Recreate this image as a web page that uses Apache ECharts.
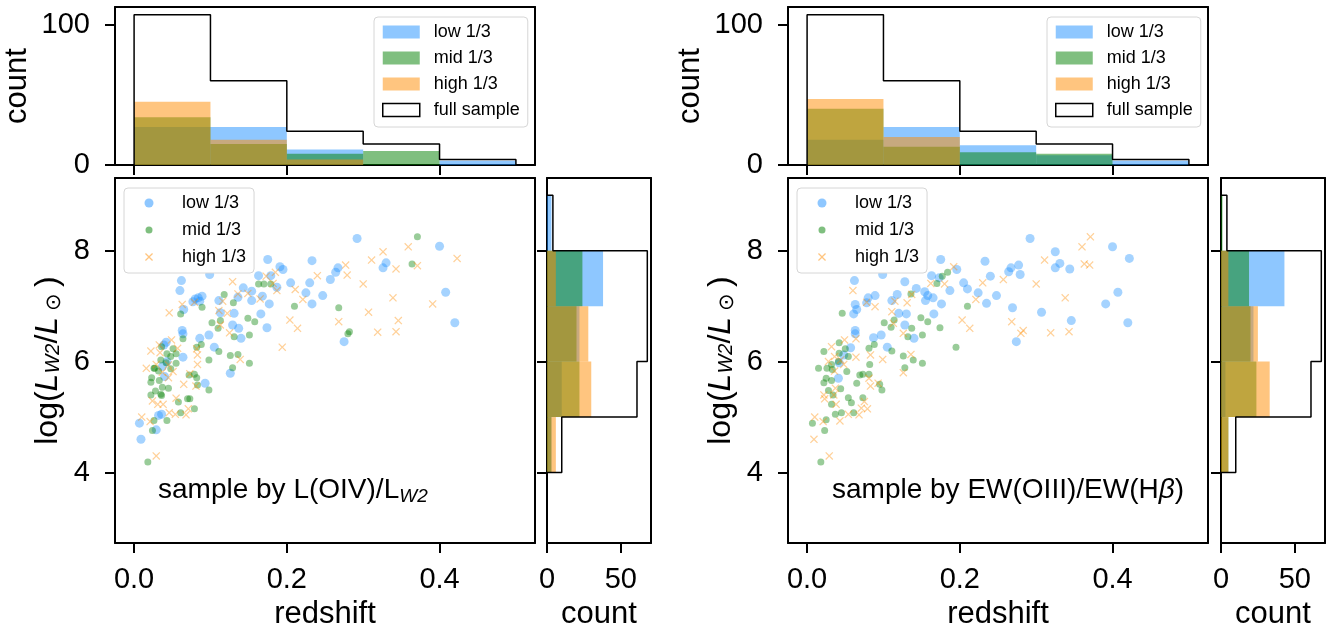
<!DOCTYPE html>
<html><head><meta charset="utf-8">
<script src="https://cdn.jsdelivr.net/npm/echarts@6/dist/echarts.min.js"></script>
<style>html,body{margin:0;padding:0;background:#fff}#c{width:1328px;height:628px}</style>
</head><body><div id="c"></div>
<script>
// ---------------- data ----------------
const groupNames = ['low 1/3', 'mid 1/3', 'high 1/3'];
const fullName = 'full sample';
const zEdges = [0, 0.1, 0.2, 0.3, 0.4, 0.5];
const lEdges = [4, 5, 6, 7, 8, 9];
const zTicks = [0, 0.2, 0.4];
const lTicks = [4, 6, 8];
const topCountTicks = [0, 100];
const sideCountTicks = [0, 50];

const fullZ = [107, 60, 24, 15, 4];
const fullL = [10, 61, 68, 68, 4];

// panel 1: sample by L(OIV)/L_W2
const oivLowZ = [27, 27, 11, 0, 3];
const oivMidZ = [34, 15, 8, 10, 0];
const oivHighZ = [45, 18, 4, 0, 0];
const oivLowL = [3, 10, 22, 38, 3];
const oivMidL = [3, 22, 20, 24, 0];
const oivHighL = [6, 30, 28, 6, 0];

// panel 2: sample by EW(OIII)/EW(Hbeta)
const ewLowZ = [18, 27, 14, 7, 3];
const ewMidZ = [40, 13, 9, 8, 0];
const ewHighZ = [47, 20, 0, 0, 0];
const ewLowL = [0, 3, 22, 43, 0];
const ewMidL = [5, 24, 20, 19, 1];
const ewHighL = [5, 33, 25, 5, 0];

const oivLow = [
[0.292,8.22],[0.400,8.08],[0.175,7.84],[0.233,7.82],[0.330,7.78],[0.326,7.69],[0.267,7.69],[0.264,7.61],[0.191,7.71],[0.195,7.66],
[0.099,7.57],[0.163,7.55],[0.179,7.55],[0.062,7.46],[0.257,7.48],[0.205,7.42],[0.230,7.42],[0.187,7.34],[0.143,7.33],[0.060,7.28],
[0.225,7.24],[0.154,7.27],[0.247,7.19],[0.168,7.18],[0.136,7.16],[0.089,7.18],[0.084,7.15],[0.080,7.13],[0.086,7.09],[0.077,7.08],
[0.111,7.10],[0.154,7.10],[0.233,7.04],[0.177,7.04],[0.408,7.25],[0.065,6.94],[0.113,6.88],[0.131,6.87],[0.166,6.86],[0.420,6.70],
[0.129,6.66],[0.137,6.60],[0.174,6.61],[0.063,6.56],[0.064,6.50],[0.098,6.48],[0.086,6.42],[0.140,6.42],[0.275,6.36],[0.105,6.26],
[0.042,6.35],[0.039,6.30],[0.064,6.08],[0.043,6.00],[0.037,5.91],[0.040,5.73],[0.126,5.79],[0.093,5.61],[0.036,5.05],[0.032,5.03],
[0.007,4.89],[0.029,4.77],[0.009,4.60]
];
const oivMid = [
[0.371,8.25],[0.364,7.76],[0.163,7.40],[0.170,7.40],[0.179,7.40],[0.118,7.21],[0.130,7.06],[0.089,6.98],[0.061,6.86],[0.210,7.00],
[0.268,6.97],[0.149,6.78],[0.158,6.72],[0.113,6.74],[0.102,6.70],[0.110,6.60],[0.282,6.54],[0.280,6.50],[0.131,6.45],[0.151,6.48],
[0.064,6.41],[0.088,6.31],[0.082,6.26],[0.111,6.18],[0.036,6.27],[0.051,6.23],[0.043,6.14],[0.055,6.14],[0.048,6.09],[0.136,6.13],
[0.126,6.11],[0.098,6.03],[0.151,5.97],[0.035,6.03],[0.055,5.97],[0.026,5.88],[0.042,5.98],[0.032,5.83],[0.048,5.87],[0.129,5.89],
[0.072,5.76],[0.079,5.77],[0.082,5.71],[0.023,5.71],[0.022,5.63],[0.033,5.66],[0.045,5.52],[0.037,5.54],[0.083,5.58],[0.098,5.49],
[0.028,5.47],[0.035,5.41],[0.022,5.40],[0.073,5.33],[0.058,5.27],[0.079,5.15],[0.061,5.08],[0.043,4.94],[0.026,4.94],[0.024,4.76],
[0.018,4.19],[0.070,5.33],[0.027,5.88],[0.036,5.39]
];
const oivHigh = [
[0.359,8.07],[0.326,7.98],[0.311,7.83],[0.423,7.86],[0.277,7.74],[0.371,7.73],[0.343,7.67],[0.185,7.61],[0.173,7.54],[0.240,7.55],
[0.279,7.56],[0.129,7.44],[0.182,7.41],[0.300,7.40],[0.211,7.30],[0.187,7.28],[0.136,7.22],[0.149,7.23],[0.165,7.13],[0.221,7.12],
[0.339,7.15],[0.116,7.09],[0.079,7.07],[0.063,7.03],[0.046,6.88],[0.111,6.92],[0.122,6.87],[0.391,7.04],[0.307,6.89],[0.204,6.75],
[0.268,6.72],[0.346,6.74],[0.214,6.60],[0.319,6.53],[0.343,6.54],[0.125,6.52],[0.194,6.26],[0.057,6.24],[0.049,6.39],[0.033,6.30],
[0.022,6.19],[0.082,6.23],[0.083,6.12],[0.034,6.16],[0.083,5.95],[0.139,6.04],[0.029,5.95],[0.016,5.88],[0.045,5.94],[0.051,5.82],
[0.037,5.81],[0.045,5.71],[0.073,5.78],[0.065,5.59],[0.081,5.56],[0.024,5.29],[0.031,5.23],[0.038,5.23],[0.055,5.34],[0.071,5.15],
[0.046,5.08],[0.054,5.05],[0.068,5.04],[0.010,5.00],[0.021,4.92],[0.029,4.30],[0.113,6.66]
];
const ewLow = [
[0.292,8.22],[0.400,8.07],[0.422,7.86],[0.175,7.84],[0.233,7.81],[0.325,7.98],[0.331,7.77],[0.325,7.69],[0.344,7.67],[0.277,7.74],
[0.267,7.69],[0.264,7.62],[0.279,7.57],[0.099,7.57],[0.163,7.55],[0.173,7.51],[0.196,7.66],[0.240,7.54],[0.062,7.46],[0.128,7.44],
[0.205,7.42],[0.210,7.31],[0.187,7.28],[0.143,7.32],[0.154,7.26],[0.224,7.24],[0.248,7.19],[0.407,7.25],[0.089,7.19],[0.080,7.15],
[0.118,7.21],[0.158,7.19],[0.165,7.15],[0.111,7.10],[0.155,7.10],[0.078,7.06],[0.063,7.03],[0.065,6.94],[0.061,6.86],[0.235,7.05],
[0.176,7.04],[0.391,7.04],[0.269,6.97],[0.307,6.89],[0.120,6.87],[0.130,6.86],[0.166,6.86],[0.346,6.74],[0.420,6.70],[0.128,6.66],
[0.063,6.56],[0.063,6.50],[0.097,6.48],[0.087,6.43],[0.140,6.42],[0.274,6.36],[0.105,6.26],[0.057,6.25],[0.048,6.12],[0.042,5.98],
[0.041,5.70]
];
const ewMid = [
[0.184,7.61],[0.177,7.54],[0.170,7.41],[0.136,7.22],[0.046,6.87],[0.210,7.00],[0.149,6.79],[0.158,6.72],[0.101,6.70],[0.114,6.75],
[0.110,6.62],[0.174,6.61],[0.137,6.60],[0.151,6.48],[0.132,6.45],[0.195,6.26],[0.088,6.31],[0.081,6.24],[0.042,6.34],[0.022,6.18],
[0.050,6.23],[0.111,6.19],[0.042,6.15],[0.054,6.09],[0.126,6.10],[0.139,6.03],[0.151,5.97],[0.015,5.88],[0.026,5.88],[0.033,5.86],
[0.082,5.95],[0.052,5.82],[0.128,5.89],[0.032,5.95],[0.025,5.70],[0.073,5.77],[0.069,5.76],[0.032,5.66],[0.022,5.62],[0.065,5.61],
[0.095,5.59],[0.028,5.48],[0.044,5.51],[0.098,5.49],[0.034,5.40],[0.054,5.35],[0.073,5.35],[0.058,5.26],[0.032,5.23],[0.045,5.08],
[0.037,5.05],[0.061,5.08],[0.025,4.95],[0.007,4.89],[0.023,4.76],[0.018,4.19],[0.081,5.77],[0.041,6.00]
];
const ewHigh = [
[0.371,8.25],[0.360,8.07],[0.311,7.83],[0.363,7.76],[0.370,7.74],[0.192,7.71],[0.257,7.48],[0.230,7.42],[0.300,7.40],[0.162,7.41],
[0.180,7.40],[0.060,7.28],[0.137,7.21],[0.221,7.12],[0.338,7.15],[0.115,7.09],[0.078,7.07],[0.089,6.99],[0.131,7.06],[0.111,6.90],
[0.203,6.75],[0.268,6.72],[0.213,6.60],[0.280,6.51],[0.283,6.56],[0.319,6.52],[0.343,6.54],[0.113,6.69],[0.126,6.51],[0.064,6.41],
[0.049,6.39],[0.032,6.27],[0.036,6.09],[0.064,6.08],[0.083,6.12],[0.099,6.04],[0.136,6.13],[0.028,6.00],[0.048,5.95],[0.036,5.83],
[0.126,5.80],[0.081,5.70],[0.093,5.61],[0.083,5.56],[0.037,5.52],[0.022,5.40],[0.023,5.33],[0.035,5.40],[0.075,5.28],[0.038,5.23],
[0.071,5.16],[0.079,5.15],[0.054,5.05],[0.068,5.04],[0.010,5.00],[0.021,4.92],[0.043,4.93],[0.009,4.60],[0.029,4.30],[0.044,6.03]
];

// ---------------- styling ----------------
const FONT = "'Liberation Sans', Arial, Helvetica, sans-serif";
const fills = ['rgba(30,144,255,0.5)', 'rgba(0,128,0,0.5)', 'rgba(255,140,0,0.5)'];
const symbolSizes = [9, 7, 8];
const X_PATH = 'path://M0,0.11L0.11,0L0.5,0.39L0.89,0L1,0.11L0.61,0.5L1,0.89L0.89,1L0.5,0.61L0.11,1L0,0.89L0.39,0.5Z';
const symbols = ['circle', 'circle', X_PATH];
// legend icons (invisible move-to points reserve the gap between marker and text)
const LEG_PATCH = 'path://M0,0M46,13M0,0L37,0L37,13L0,13Z';
const LEG_BLUE = 'path://M0,0M43,9M15,0A4.5,4.5,0,1,1,15,9A4.5,4.5,0,1,1,15,0Z';
const LEG_GREEN = 'path://M0,0M43,9M15,1A3.5,3.5,0,1,1,15,8A3.5,3.5,0,1,1,15,1Z';
const LEG_X = 'path://M0,0M43,9M11,1.4L11.9,0.5L15,3.6L18.1,0.5L19,1.4L15.9,4.5L19,7.6L18.1,8.5L15,5.4L11.9,8.5L11,7.6L14.1,4.5Z';
const Z_RANGE = [-0.025, 0.525];
const L_RANGE = [2.73, 9.31];
const TOP_MAX = 112.6;
const SIDE_MAX = 70.5;

const panels = [
  { left: 115, sideLeft: 547, sideW: 104,
    z: [oivLowZ, oivMidZ, oivHighZ], l: [oivLowL, oivMidL, oivHighL], pts: [oivLow, oivMid, oivHigh],
    annotation: '{a|sample by L(OIV)/L}{s|W2}', annotLeft: 158 },
  { left: 788, sideLeft: 1221, sideW: 104,
    z: [ewLowZ, ewMidZ, ewHighZ], l: [ewLowL, ewMidL, ewHighL], pts: [ewLow, ewMid, ewHigh],
    annotation: '{a|sample by EW(OIII)/EW(H}{b|β}{a|)}', annotLeft: 832 }
];

function binRows(edges, counts) { return counts.map((c, i) => [edges[i], edges[i + 1], c]); }
function stepTop(edges, counts) {
  const pts = [[edges[0], 0]];
  counts.forEach((c, i) => { pts.push([edges[i], c]); pts.push([edges[i + 1], c]); });
  pts.push([edges[edges.length - 1], 0]);
  return pts;
}
function stepSide(edges, counts) {
  const pts = [[0, edges[0]]];
  counts.forEach((c, i) => { pts.push([c, edges[i]]); pts.push([c, edges[i + 1]]); });
  pts.push([0, edges[edges.length - 1]]);
  return pts;
}
function vBar(color) {
  return function (params, api) {
    const a = api.coord([api.value(0), 0]);
    const b = api.coord([api.value(1), api.value(2)]);
    return { type: 'rect', shape: { x: a[0], y: b[1], width: b[0] - a[0], height: a[1] - b[1] }, style: { fill: color } };
  };
}
function hBar(color) {
  return function (params, api) {
    const a = api.coord([0, api.value(0)]);
    const b = api.coord([api.value(2), api.value(1)]);
    return { type: 'rect', shape: { x: a[0], y: b[1], width: b[0] - a[0], height: a[1] - b[1] }, style: { fill: color } };
  };
}

const tickStyle = { show: true, inside: false, length: 10, lineStyle: { color: '#000', width: 2 } };
const lineStyleAxis = { show: true, onZero: false, lineStyle: { color: '#000', width: 2 } };
const labelBase = { color: '#000', fontSize: 29, fontFamily: FONT };
const nameStyle = { color: '#000', fontSize: 31, fontFamily: FONT };
const yNameRich = {
  n: { fontSize: 32, fontFamily: FONT, color: '#000', lineHeight: 36 },
  i: { fontSize: 32, fontFamily: FONT, color: '#000', fontStyle: 'italic', lineHeight: 36 },
  s: { fontSize: 20, fontFamily: FONT, color: '#000', fontStyle: 'italic', lineHeight: 20, padding: [11, 0, 0, 0] },
  o: { fontSize: 21, fontFamily: FONT, color: '#000', lineHeight: 21, padding: [12, 6, 0, 6] }
};
const legendText = { fontSize: 18, fontFamily: FONT, color: '#000', lineHeight: 20 };

const grid = [], xAxis = [], yAxis = [], series = [], legend = [], title = [];
const frameX = [], frameY = [];

panels.forEach((p, pi) => {
  const g0 = pi * 3;
  const gridBox = { show: false, containLabel: false, outerBoundsMode: 'none' };
  grid.push(Object.assign({ left: p.left, top: 7, width: 420, height: 158 }, gridBox));
  grid.push(Object.assign({ left: p.left, top: 178, width: 420, height: 365 }, gridBox));
  grid.push(Object.assign({ left: p.sideLeft, top: 178, width: p.sideW, height: 365 }, gridBox));

  // top histogram axes
  xAxis.push({ gridIndex: g0, type: 'value', min: Z_RANGE[0], max: Z_RANGE[1], axisLine: lineStyleAxis,
    axisTick: Object.assign({ customValues: zTicks }, tickStyle), axisLabel: { show: false }, splitLine: { show: false } });
  yAxis.push({ gridIndex: g0, type: 'value', min: 0, max: TOP_MAX, axisLine: lineStyleAxis,
    axisTick: Object.assign({ customValues: topCountTicks }, tickStyle),
    axisLabel: Object.assign({ customValues: topCountTicks, margin: 25 }, labelBase), splitLine: { show: false },
    name: 'count', nameLocation: 'middle', nameGap: 82, nameTextStyle: nameStyle });
  // main scatter axes
  xAxis.push({ gridIndex: g0 + 1, type: 'value', min: Z_RANGE[0], max: Z_RANGE[1], axisLine: lineStyleAxis,
    axisTick: Object.assign({ customValues: zTicks }, tickStyle),
    axisLabel: Object.assign({ customValues: zTicks, margin: 22, formatter: v => v.toFixed(1) }, labelBase),
    splitLine: { show: false }, name: 'redshift', nameLocation: 'middle', nameGap: 55, nameTextStyle: nameStyle });
  yAxis.push({ gridIndex: g0 + 1, type: 'value', min: L_RANGE[0], max: L_RANGE[1], axisLine: lineStyleAxis,
    axisTick: Object.assign({ customValues: lTicks }, tickStyle),
    axisLabel: Object.assign({ customValues: lTicks, margin: 25, formatter: v => String(v) }, labelBase),
    splitLine: { show: false },
    name: '{n|log(}{i|L}{s|W2}{n|/}{i|L}{o|⊙}{n|)}', nameLocation: 'middle', nameGap: 49,
    nameTextStyle: Object.assign({ rich: yNameRich }, nameStyle) });
  // side histogram axes
  xAxis.push({ gridIndex: g0 + 2, type: 'value', min: 0, max: SIDE_MAX, axisLine: lineStyleAxis,
    axisTick: Object.assign({ customValues: sideCountTicks }, tickStyle),
    axisLabel: Object.assign({ customValues: sideCountTicks, margin: 22 }, labelBase), splitLine: { show: false },
    name: 'count', nameLocation: 'middle', nameGap: 55, nameTextStyle: nameStyle });
  yAxis.push({ gridIndex: g0 + 2, type: 'value', min: L_RANGE[0], max: L_RANGE[1], axisLine: lineStyleAxis,
    axisTick: Object.assign({ customValues: lTicks }, tickStyle), axisLabel: { show: false }, splitLine: { show: false } });

  // frame (top / right spines)
  [g0, g0 + 1, g0 + 2].forEach(gi => {
    frameX.push({ gridIndex: gi, type: 'value', position: 'top', min: 0, max: 1, axisLine: lineStyleAxis,
      axisTick: { show: false }, axisLabel: { show: false }, splitLine: { show: false }, z: 5 });
    frameY.push({ gridIndex: gi, type: 'value', position: 'right', min: 0, max: 1, axisLine: lineStyleAxis,
      axisTick: { show: false }, axisLabel: { show: false }, splitLine: { show: false }, z: 5 });
  });

  // histograms
  groupNames.forEach((name, k) => {
    series.push({ type: 'custom', name, xAxisIndex: g0, yAxisIndex: g0, data: binRows(zEdges, p.z[k]),
      encode: { x: [0, 1], y: 2 }, renderItem: vBar(fills[k]), itemStyle: { color: fills[k] }, z: 1, silent: true });
    series.push({ type: 'custom', name, xAxisIndex: g0 + 2, yAxisIndex: g0 + 2, data: binRows(lEdges, p.l[k]),
      encode: { x: 2, y: [0, 1] }, renderItem: hBar(fills[k]), itemStyle: { color: fills[k] }, z: 1, silent: true });
  });
  series.push({ type: 'line', name: fullName, xAxisIndex: g0, yAxisIndex: g0, data: stepTop(zEdges, fullZ),
    symbol: 'none', lineStyle: { color: '#000', width: 1.5 }, itemStyle: { color: '#000' }, z: 1, silent: true });
  series.push({ type: 'line', name: fullName, xAxisIndex: g0 + 2, yAxisIndex: g0 + 2, data: stepSide(lEdges, fullL),
    symbol: 'none', lineStyle: { color: '#000', width: 1.5 }, itemStyle: { color: '#000' }, z: 1, silent: true });

  // scatter
  groupNames.forEach((name, k) => {
    series.push({ type: 'scatter', name, xAxisIndex: g0 + 1, yAxisIndex: g0 + 1, data: p.pts[k],
      symbol: symbols[k], symbolSize: symbolSizes[k], itemStyle: { color: fills[k], borderWidth: 0 }, z: 1, silent: true });
  });

  // legends
  legend.push({ orient: 'vertical', left: p.left + 259, top: 17, itemWidth: 46, itemHeight: 13, itemGap: 6,
    padding: [5, 8, 7, 8], backgroundColor: '#fff', borderColor: '#d6d6d6', borderWidth: 1, borderRadius: 4,
    selectedMode: false, z: 10, textStyle: legendText,
    data: [
      { name: groupNames[0], icon: LEG_PATCH, itemStyle: { color: fills[0], borderWidth: 0 } },
      { name: groupNames[1], icon: LEG_PATCH, itemStyle: { color: fills[1], borderWidth: 0 } },
      { name: groupNames[2], icon: LEG_PATCH, itemStyle: { color: fills[2], borderWidth: 0 } },
      { name: fullName, icon: LEG_PATCH, itemStyle: { color: '#fff', borderColor: '#000', borderWidth: 1.5 } }
    ] });
  legend.push({ orient: 'vertical', left: p.left + 9, top: 188, itemWidth: 43, itemHeight: 9, itemGap: 7,
    padding: [5, 8, 6, 10], backgroundColor: '#fff', borderColor: '#d6d6d6', borderWidth: 1, borderRadius: 4,
    selectedMode: false, z: 10, textStyle: legendText,
    data: [
      { name: groupNames[0], icon: LEG_BLUE, itemStyle: { color: fills[0], borderWidth: 0 } },
      { name: groupNames[1], icon: LEG_GREEN, itemStyle: { color: fills[1], borderWidth: 0 } },
      { name: groupNames[2], icon: LEG_X, itemStyle: { color: fills[2], borderWidth: 0 } }
    ] });

  title.push({ left: p.annotLeft, top: 473, padding: 0, text: p.annotation,
    textStyle: { fontWeight: 'normal', rich: {
      a: { fontSize: 28, fontFamily: FONT, color: '#000', fontWeight: 'normal', lineHeight: 34 },
      b: { fontSize: 28, fontFamily: FONT, color: '#000', fontWeight: 'normal', fontStyle: 'italic', lineHeight: 34 },
      s: { fontSize: 19, fontFamily: FONT, color: '#000', fontWeight: 'normal', fontStyle: 'italic', lineHeight: 19, padding: [13, 0, 0, 0] }
    } } });
});

frameX.forEach(a => xAxis.push(a));
frameY.forEach(a => yAxis.push(a));

const chart = echarts.init(document.getElementById('c'), null, { renderer: 'canvas' });
chart.setOption({ animation: false, backgroundColor: '#fff', grid, xAxis, yAxis, series, legend, title });
</script>
</body></html>
